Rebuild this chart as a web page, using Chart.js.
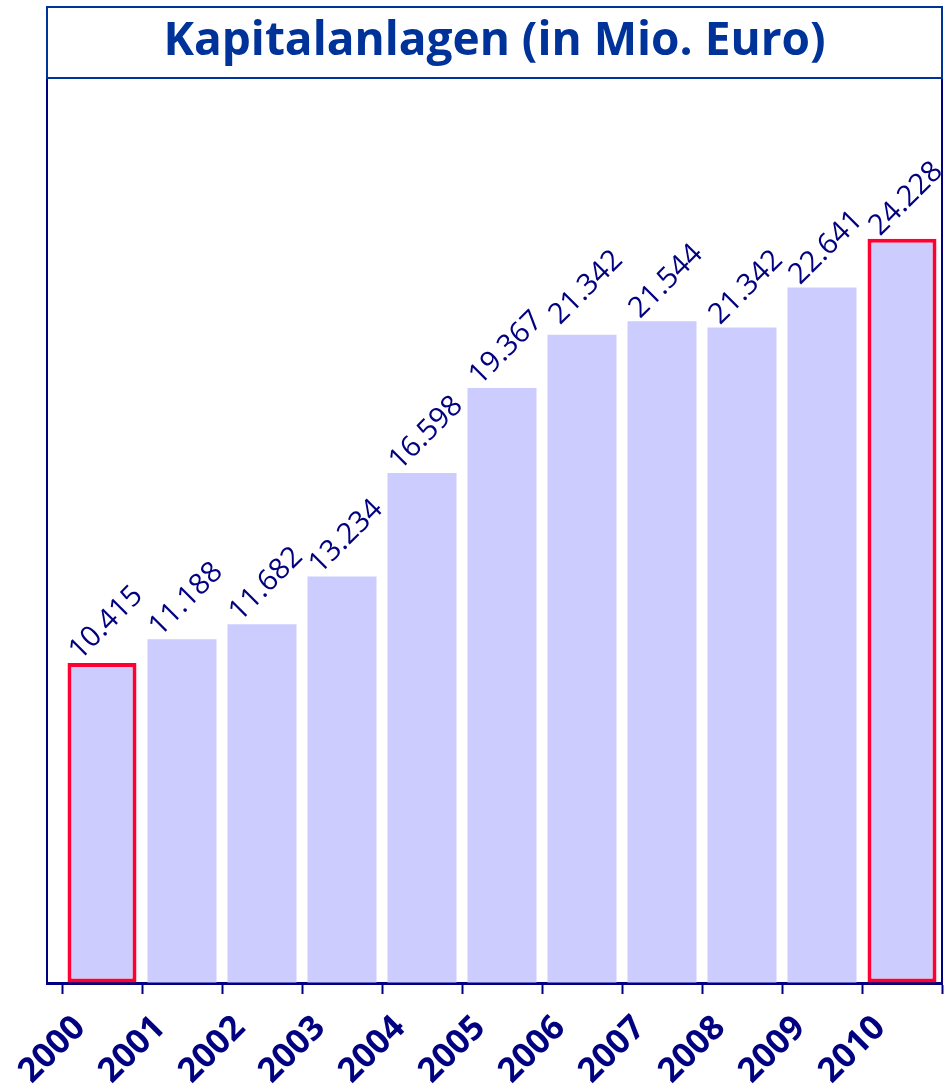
<!DOCTYPE html>
<html>
<head>
<meta charset="utf-8">
<script src="https://cdn.jsdelivr.net/npm/chart.js@4/dist/chart.umd.min.js"></script>
<style>
  html, body { margin: 0; padding: 0; background: #ffffff; overflow: hidden; }
  #c { display: block; }
</style>
</head>
<body>
<canvas id="c" width="949" height="1089"></canvas>
<script>
// ---- data ----
const titleText = 'Kapitalanlagen (in Mio. Euro)';
const years = ['2000', '2001', '2002', '2003', '2004', '2005', '2006', '2007', '2008', '2009', '2010'];
const values = [10.415, 11.188, 11.682, 13.234, 16.598, 19.367, 21.10, 21.544, 21.342, 22.641, 24.228];
const valueLabels = ['10.415', '11.188', '11.682', '13.234', '16.598', '19.367', '21.342', '21.544', '21.342', '22.641', '24.228'];
const highlighted = ['2000', '2010'];

const NAVY = '#000080';
const TITLE_BLUE = '#003399';
const BAR_FILL = '#ccccff';
const RED = '#ff0033';

const boxPlugin = {
  id: 'titleBox',
  afterDraw(chart) {
    const ctx = chart.ctx;
    const ca = chart.chartArea;
    const tb = chart.titleBlock;
    ctx.save();
    ctx.strokeStyle = TITLE_BLUE;
    ctx.lineWidth = 2;
    ctx.strokeRect(ca.left, tb.top + 1, ca.right - ca.left, ca.top - tb.top - 1);
    ctx.restore();
  }
};

const labelPlugin = {
  id: 'valueLabels',
  afterDatasetsDraw(chart) {
    const ctx = chart.ctx;
    const meta = chart.getDatasetMeta(0);
    const yScale = chart.scales.y;
    ctx.save();
    ctx.font = '29px "Open Sans"';
    ctx.fillStyle = NAVY;
    ctx.textAlign = 'left';
    ctx.textBaseline = 'alphabetic';
    meta.data.forEach((bar, i) => {
      const yTop = yScale.getPixelForValue(Number(valueLabels[i]));
      ctx.save();
      ctx.translate(bar.x - 22, yTop - 2);
      ctx.rotate(-Math.PI / 4);
      ctx.fillText(valueLabels[i], 0, 0);
      ctx.restore();
    });
    ctx.restore();
  }
};

const edgeTicks = years.map((y, i) => i - 0.5).concat([years.length - 0.5]);

new Chart(document.getElementById('c'), {
  type: 'bar',
  data: {
    datasets: [{
      data: years.map((y, i) => ({ x: i, y: values[i] })),
      backgroundColor: BAR_FILL,
      borderColor: (c) => highlighted.includes(years[c.dataIndex]) ? RED : 'rgba(0,0,0,0)',
      borderWidth: (c) => highlighted.includes(years[c.dataIndex]) ? 4 : 0,
      borderSkipped: false,
      barPercentage: 0.8625,
      categoryPercentage: 1
    }]
  },
  options: {
    responsive: false,
    animation: false,
    devicePixelRatio: 1,
    layout: { padding: { left: 47, right: 7, top: 6, bottom: 0 } },
    plugins: {
      legend: { display: false },
      tooltip: { enabled: false },
      title: {
        display: true,
        text: titleText,
        color: TITLE_BLUE,
        font: { family: '"Open Sans"', size: 46, weight: 'bold', lineHeight: 1.2 },
        padding: { top: 8, bottom: 8.8 }
      }
    },
    scales: {
      x: {
        type: 'linear',
        min: -0.6875,
        max: 10.5,
        offset: false,
        afterBuildTicks: (scale) => { scale.ticks = edgeTicks.map(v => ({ value: v })); },
        afterFit: (scale) => {
          scale.height = 106;
          scale.paddingLeft = 0;
          scale.paddingRight = 0;
        },
        grid: { display: true, offset: false, drawOnChartArea: false, drawTicks: true, tickLength: 11, tickWidth: 2, tickColor: NAVY },
        border: { display: true, color: NAVY, width: 3 },
        ticks: {
          autoSkip: false,
          minRotation: 45,
          maxRotation: 45,
          padding: 14,
          labelOffset: 18,
          color: NAVY,
          font: { family: '"Open Sans"', size: 34, weight: 'bold' },
          callback: (v) => years[Math.round(v + 0.5)] || ''
        }
      },
      y: {
        type: 'linear',
        min: 0,
        max: 29.46,
        afterFit: (scale) => { scale.width = 0; },
        grid: { display: true, drawOnChartArea: false, drawTicks: false },
        border: { display: true, color: NAVY, width: 2 },
        ticks: { display: false }
      },
      y2: {
        type: 'linear',
        position: 'right',
        min: 0,
        max: 29.46,
        afterFit: (scale) => { scale.width = 0; },
        grid: { display: true, drawOnChartArea: false, drawTicks: false },
        border: { display: true, color: NAVY, width: 2 },
        ticks: { display: false }
      }
    }
  },
  plugins: [boxPlugin, labelPlugin]
});
</script>
</body>
</html>
